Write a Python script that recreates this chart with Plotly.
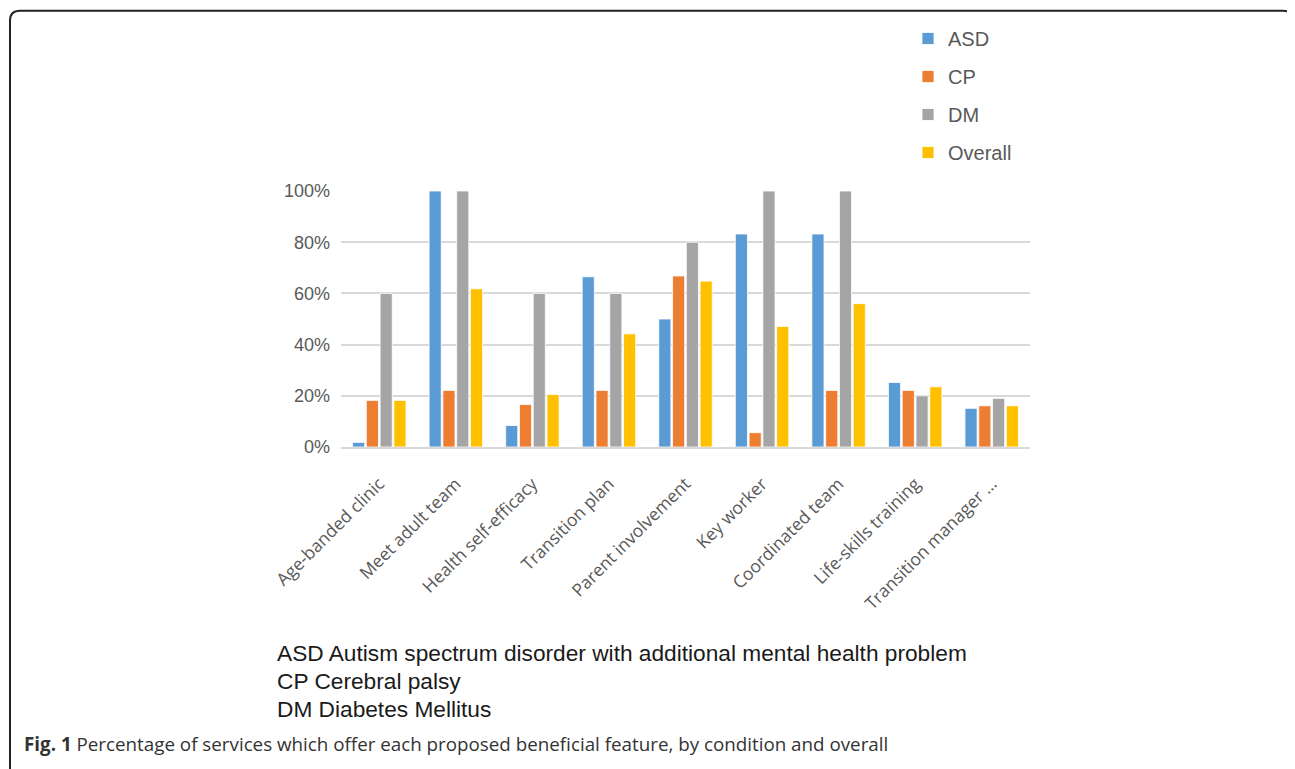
import plotly.graph_objects as go

categories = ["Age-banded clinic", "Meet adult team", "Health self-efficacy", "Transition plan",
              "Parent involvement", "Key worker", "Coordinated team", "Life-skills training",
              "Transition manager …"]
asd = [0.018, 1.00, 0.084, 0.665, 0.50, 0.832, 0.832, 0.252, 0.151]
cp = [0.182, 0.221, 0.166, 0.221, 0.668, 0.056, 0.221, 0.221, 0.161]
dm = [0.60, 1.00, 0.60, 0.60, 0.80, 1.00, 1.00, 0.20, 0.19]
overall = [0.182, 0.618, 0.205, 0.442, 0.648, 0.471, 0.56, 0.235, 0.161]
series_names = ["ASD", "CP", "DM", "Overall"]
series_values = [asd, cp, dm, overall]
colors = ["#5B9BD5", "#ED7D31", "#A5A5A5", "#FFC000"]
caption_lines = ["ASD Autism spectrum disorder with additional mental health problem",
                 "CP Cerebral palsy", "DM Diabetes Mellitus"]
fig_caption = "<b>Fig. 1</b> Percentage of services which offer each proposed beneficial feature, by condition and overall"

OFF = 8  # page body margin
W, H = 1295, 769
PW, PH = 689, 257
L, T = 341 - OFF, 190 - OFF
R, B = W - L - PW, H - T - PH

def px(x):
    return (x - OFF - L) / PW

def py(y):
    return (T + PH - (y - OFF)) / PH

fig = go.Figure()
for name, vals, col in zip(series_names, series_values, colors):
    fig.add_trace(go.Bar(x=categories, y=vals, name=name, legendgroup=name,
                         marker=dict(color=col, line=dict(color="white", width=0.8))))

annotations = []
for i, line in enumerate(caption_lines):
    annotations.append(dict(text=line, x=px(275), y=py(654 + 28 * i), xref="paper", yref="paper",
                            xanchor="left", yanchor="middle", showarrow=False,
                            font=dict(family="Liberation Sans", size=22.7, color="#1a1a1a")))
annotations.append(dict(text=fig_caption, x=px(22), y=py(745), xref="paper", yref="paper",
                        xanchor="left", yanchor="middle", showarrow=False,
                        font=dict(family="Open Sans", size=18.8, color="#333333")))

# rounded border
x0, x1, y0, y1 = 10, 1293, 9, 800
r = 10
path = (f"M {px(x0)},{py(y1)} L {px(x0)},{py(y0 + r)} Q {px(x0)},{py(y0)} {px(x0 + r)},{py(y0)} "
        f"L {px(x1 - r)},{py(y0)} Q {px(x1)},{py(y0)} {px(x1)},{py(y0 + r)} L {px(x1)},{py(y1)}")

fig.update_layout(
    width=W, height=H,
    margin=dict(l=L, r=R, t=T, b=B, pad=0),
    paper_bgcolor="white", plot_bgcolor="white",
    barmode="group", bargap=0.28, bargroupgap=0.12,
    font=dict(family="Liberation Sans", color="#595959"),
    legend=dict(x=px(908), y=py(19), xanchor="left", yanchor="top",
                font=dict(family="Liberation Sans", size=20, color="#595959"),
                tracegroupgap=9, bgcolor="rgba(0,0,0,0)"),
    xaxis=dict(tickangle=-45, tickfont=dict(family="Open Sans", size=17.5, color="#595959"),
               showline=True, linecolor="#d9d9d9", linewidth=1.5, ticks="", showgrid=False,
               ticklabelstandoff=18),
    yaxis=dict(range=[0, 1], dtick=0.2, tickformat=".0%", showgrid=True, gridcolor="#d9d9d9",
               gridwidth=1.5, zeroline=False, showline=False,
               tickfont=dict(family="Liberation Sans", size=18, color="#595959"), ticklabelstandoff=10),
    annotations=annotations,
    shapes=[dict(type="path", path=path, xref="paper", yref="paper",
                 line=dict(color="#222222", width=2))],
    showlegend=True,
)
fig.write_html("out.html")
